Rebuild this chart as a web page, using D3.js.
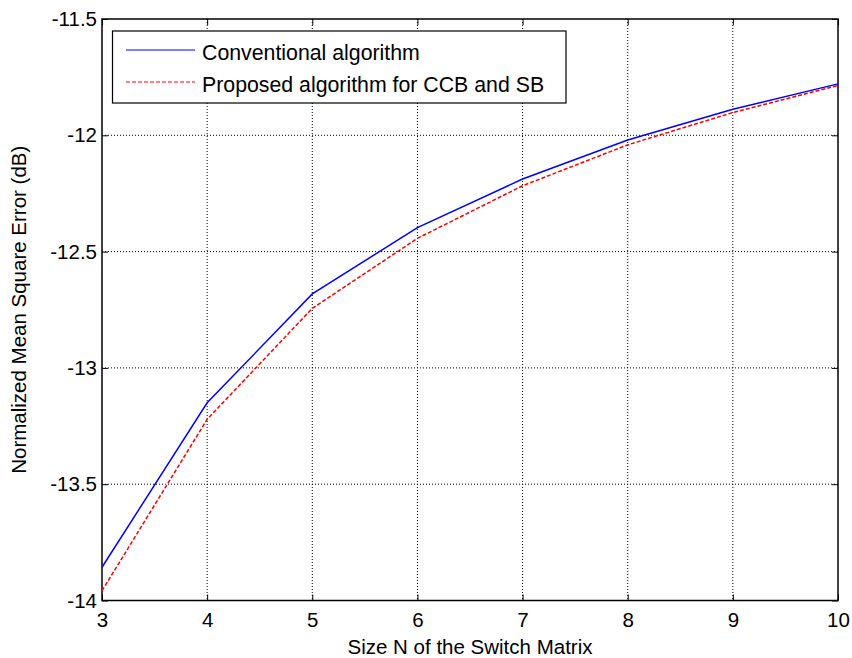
<!DOCTYPE html>
<html><head><meta charset="utf-8">
<script src="https://cdn.jsdelivr.net/npm/d3@7/dist/d3.min.js"></script>
<style>body{margin:0;background:#fff}svg{display:block}text{font-family:"Liberation Sans",Arial,sans-serif;fill:#000}</style>
</head><body><svg id="c" width="852" height="658"></svg>
<script>
const sizes = [3,4,5,6,7,8,9,10];
const conventional = [-13.857,-13.150,-12.682,-12.397,-12.188,-12.020,-11.888,-11.779];
const proposed = [-13.958,-13.221,-12.744,-12.443,-12.217,-12.041,-11.902,-11.786];
const xTicks = [3,4,5,6,7,8,9,10];
const yTicks = [-14,-13.5,-13,-12.5,-12,-11.5];
const seriesNames = ["Conventional algorithm","Proposed algorithm for CCB and SB"];

const svg = d3.select("#c");
const L=102, R=838, T=19, B=600.5;
const FS = 20.5;
const x = d3.scaleLinear().domain([3,10]).range([L,R]);
const y = d3.scaleLinear().domain([-14,-11.5]).range([B,T]);

// grid
const g = svg.append("g");
g.selectAll(".gx").data(xTicks.slice(1,-1)).enter().append("line")
 .attr("x1",d=>x(d)).attr("x2",d=>x(d)).attr("y1",T).attr("y2",B)
 .attr("stroke","#000").attr("stroke-width",1).attr("stroke-dasharray","1,2");
g.selectAll(".gy").data(yTicks.slice(1,-1)).enter().append("line")
 .attr("y1",d=>y(d)).attr("y2",d=>y(d)).attr("x1",L).attr("x2",R)
 .attr("stroke","#000").attr("stroke-width",1).attr("stroke-dasharray","1,2");

// axes (inward ticks)
const ax = (a)=>a.tickSizeInner(-6).tickSizeOuter(0).tickPadding(9);
svg.append("g").attr("class","xb").attr("transform",`translate(0,${B})`).call(ax(d3.axisBottom(x).tickValues(xTicks).tickFormat(d3.format("d"))));
svg.append("g").attr("transform",`translate(0,${T})`).call(ax(d3.axisTop(x).tickValues(xTicks)).tickFormat(""));
svg.append("g").attr("class","yl").attr("transform",`translate(${L},0)`).call(ax(d3.axisLeft(y).tickValues(yTicks).tickFormat(d=>String(d))).tickPadding(5));
svg.append("g").attr("transform",`translate(${R},0)`).call(ax(d3.axisRight(y).tickValues(yTicks)).tickFormat(""));
svg.selectAll(".domain").remove();
svg.selectAll(".tick line").attr("stroke","#000");
svg.selectAll(".tick text").attr("font-size",FS).attr("fill","#000").attr("font-family","Liberation Sans, Arial, sans-serif");
svg.selectAll(".xb .tick text").attr("dy","0.85em");
svg.append("rect").attr("x",L).attr("y",T).attr("width",R-L).attr("height",B-T)
 .attr("fill","none").attr("stroke","#000").attr("stroke-width",1.5);

// lines
const line = d3.line().x((d,i)=>x(sizes[i])).y(d=>y(d));
svg.append("path").datum(conventional).attr("d",line).attr("fill","none").attr("stroke","#0000ff").attr("stroke-width",1.5);
svg.append("path").datum(proposed).attr("d",line).attr("fill","none").attr("stroke","#ff0000").attr("stroke-width",1.5).attr("stroke-dasharray","4,2");

// legend
const lg = svg.append("g");
lg.append("rect").attr("x",112.5).attr("y",31).attr("width",453.5).attr("height",72).attr("fill","#fff").attr("stroke","#000").attr("stroke-width",1.2);
const lc = [["#0000ff",null],["#ff0000","4,2"]];
seriesNames.forEach((n,i)=>{
  const yy = 50 + i*32;
  lg.append("line").attr("x1",126).attr("x2",195).attr("y1",yy).attr("y2",yy)
    .attr("stroke",lc[i][0]).attr("stroke-width",1.2).attr("stroke-dasharray",lc[i][1]);
  lg.append("text").attr("x",202).attr("y",yy+10).attr("font-size",21.3).text(n);
});

// axis labels
svg.append("text").attr("x",(L+R)/2).attr("y",654).attr("text-anchor","middle").attr("font-size",FS).text("Size N of the Switch Matrix");
svg.append("text").attr("transform",`translate(26,${(T+B)/2}) rotate(-90)`).attr("text-anchor","middle").attr("font-size",FS).text("Normalized Mean Square Error (dB)");
</script></body></html>
